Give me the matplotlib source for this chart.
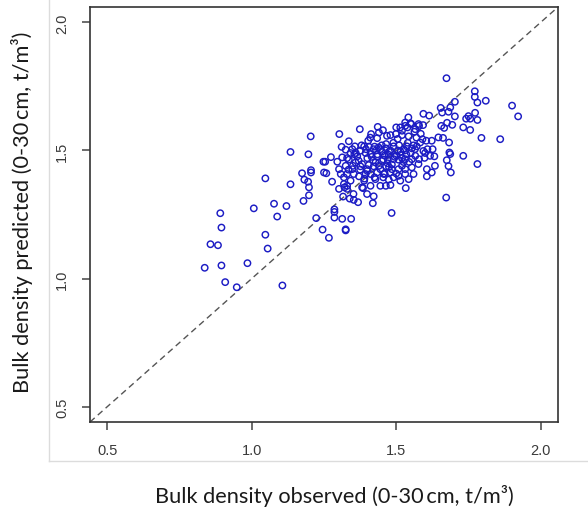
import matplotlib
matplotlib.use("Agg")
import matplotlib.pyplot as plt
from matplotlib.lines import Line2D

# Observed vs predicted topsoil bulk density (t/m3)
observed = [
    0.837, 0.857, 0.883, 0.891, 0.895, 0.895, 0.908, 0.948, 0.985, 1.007,
    1.047, 1.047, 1.055, 1.077, 1.088, 1.106, 1.120, 1.134, 1.134, 1.174,
    1.179, 1.182, 1.195, 1.196, 1.198, 1.198, 1.204, 1.205, 1.205, 1.223,
    1.245, 1.248, 1.250, 1.254, 1.258, 1.267, 1.274, 1.278, 1.286, 1.286,
    1.286, 1.303, 1.313, 1.316, 1.321, 1.325, 1.325, 1.330, 1.339, 1.344,
    1.352, 1.353, 1.368, 1.385, 1.399, 1.419, 1.422, 1.464, 1.480, 1.484,
    1.533, 1.673,
    1.674, 1.772, 1.772, 1.781, 1.810, 1.703, 1.901, 1.922, 1.654, 1.659,
    1.681, 1.687, 1.703, 1.594, 1.614, 1.542, 1.549, 1.750, 1.742, 1.756,
    1.773, 1.781, 1.656, 1.666, 1.676, 1.694, 1.732, 1.756, 1.579, 1.593,
    1.662, 1.683, 1.795, 1.860, 1.684, 1.687, 1.732, 1.781, 1.675, 1.681,
    1.689, 1.626, 1.632, 1.634, 1.608, 1.600, 1.617, 1.606, 1.623, 1.606,
    1.604, 1.623,
    1.374, 1.436, 1.454, 1.413, 1.336, 1.403, 1.434, 1.468, 1.499, 1.520,
    1.539, 1.552, 1.563, 1.543, 1.591, 1.646,
    1.311, 1.325, 1.357, 1.342, 1.376, 1.389, 1.394, 1.365, 1.411, 1.422,
    1.439, 1.451, 1.465, 1.434, 1.474, 1.491, 1.506, 1.515, 1.525, 1.537,
    1.554, 1.571, 1.583, 1.594, 1.566, 1.579, 1.598, 1.554, 1.531, 1.508,
    1.491, 1.471, 1.451, 1.428, 1.405, 1.382, 1.359, 1.336, 1.313, 1.296,
    1.302, 1.308,
    1.325, 1.348, 1.376, 1.399, 1.422, 1.445, 1.465, 1.485, 1.508, 1.531,
    1.554, 1.577, 1.330, 1.353, 1.371, 1.394, 1.411, 1.434, 1.457, 1.480,
    1.508, 1.514, 1.445, 1.411, 1.319, 1.342, 1.319, 1.330, 1.382, 1.531,
    1.560, 1.543, 1.491, 1.474, 1.428, 1.389, 1.302,
    1.531, 1.566, 1.577, 1.514, 1.531, 1.348,
    1.380, 1.400, 1.420, 1.430, 1.450, 1.460, 1.470, 1.480, 1.490, 1.500,
    1.510, 1.520, 1.530, 1.540, 1.550, 1.560, 1.440, 1.460, 1.400, 1.370,
    1.360, 1.350, 1.520, 1.500, 1.570, 1.480, 1.410, 1.440, 1.500, 1.520,
    1.330, 1.390,
    1.415, 1.435, 1.455, 1.475, 1.495, 1.515, 1.535, 1.545, 1.425, 1.445,
    1.465, 1.485, 1.505, 1.525, 1.395, 1.375, 1.355, 1.335, 1.565, 1.585,
    1.455, 1.475, 1.405, 1.425,
]
predicted = [
    1.042, 1.134, 1.130, 1.255, 1.199, 1.051, 0.986, 0.966, 1.060, 1.274,
    1.171, 1.391, 1.117, 1.292, 1.242, 0.973, 1.283, 1.368, 1.494, 1.411,
    1.303, 1.386, 1.378, 1.485, 1.356, 1.325, 1.555, 1.423, 1.414, 1.236,
    1.191, 1.456, 1.414, 1.456, 1.411, 1.159, 1.474, 1.378, 1.270, 1.260,
    1.238, 1.564, 1.233, 1.320, 1.356, 1.192, 1.188, 1.362, 1.312, 1.233,
    1.330, 1.307, 1.298, 1.353, 1.330, 1.294, 1.321, 1.362, 1.365, 1.256,
    1.353, 1.316,
    1.782, 1.731, 1.709, 1.687, 1.694, 1.690, 1.675, 1.633, 1.666, 1.648,
    1.651, 1.668, 1.633, 1.643, 1.636, 1.629, 1.606, 1.634, 1.624, 1.624,
    1.647, 1.619, 1.596, 1.588, 1.608, 1.600, 1.590, 1.580, 1.596, 1.599,
    1.549, 1.531, 1.549, 1.544, 1.492, 1.486, 1.479, 1.447, 1.462, 1.439,
    1.414, 1.505, 1.477, 1.440, 1.505, 1.490, 1.479, 1.427, 1.414, 1.399,
    1.538, 1.538,
    1.583, 1.592, 1.579, 1.564, 1.536, 1.538, 1.548, 1.557, 1.564, 1.577,
    1.590, 1.603, 1.573, 1.555, 1.544, 1.551,
    1.514, 1.503, 1.516, 1.490, 1.499, 1.516, 1.490, 1.477, 1.486, 1.505,
    1.512, 1.496, 1.508, 1.477, 1.483, 1.516, 1.500, 1.483, 1.505, 1.516,
    1.508, 1.516, 1.531, 1.498, 1.479, 1.466, 1.471, 1.466, 1.466, 1.464,
    1.466, 1.466, 1.459, 1.453, 1.443, 1.447, 1.453, 1.464, 1.473, 1.456,
    1.427, 1.408,
    1.440, 1.427, 1.438, 1.427, 1.438, 1.427, 1.438, 1.427, 1.427, 1.427,
    1.434, 1.447, 1.408, 1.408, 1.399, 1.408, 1.408, 1.414, 1.408, 1.414,
    1.401, 1.382, 1.362, 1.362, 1.395, 1.382, 1.369, 1.350, 1.356, 1.408,
    1.408, 1.388, 1.395, 1.386, 1.388, 1.382, 1.350,
    1.596, 1.583, 1.603, 1.590, 1.609, 1.505,
    1.520, 1.470, 1.460, 1.500, 1.520, 1.480, 1.450, 1.500, 1.530, 1.480,
    1.520, 1.470, 1.500, 1.530, 1.490, 1.520, 1.440, 1.410, 1.420, 1.460,
    1.490, 1.440, 1.440, 1.410, 1.550, 1.560, 1.550, 1.570, 1.590, 1.560,
    1.470, 1.390,
    1.475, 1.485, 1.465, 1.495, 1.475, 1.495, 1.485, 1.455, 1.515, 1.505,
    1.525, 1.445, 1.545, 1.455, 1.505, 1.425, 1.485, 1.425, 1.505, 1.565,
    1.395, 1.435, 1.515, 1.395,
]

axis_limits = (0.44, 2.06)
tick_values = [0.5, 1.0, 1.5, 2.0]
tick_labels = ["0.5", "1.0", "1.5", "2.0"]
x_title = "Bulk density observed (0-30\u2009cm, t/m\u00b3)"
y_title = "Bulk density predicted (0-30\u2009cm, t/m\u00b3)"

W, H = 588, 510
fig = plt.figure(figsize=(W / 100, H / 100), dpi=100)
fig.patch.set_facecolor("white")

# light frame around the embedded plot panel
fig.add_artist(Line2D([49 / W, 49 / W], [1.0, 1 - 462 / H], transform=fig.transFigure,
                      color="#dcdcdc", lw=1.0))
fig.add_artist(Line2D([49 / W, 1.0], [1 - 462 / H, 1 - 462 / H], transform=fig.transFigure,
                      color="#dcdcdc", lw=1.0))

ax = fig.add_axes([90 / W, 1 - 423 / H, (558 - 90) / W, (423 - 8) / H])
ax.set_xlim(*axis_limits)
ax.set_ylim(*axis_limits)

# 1:1 reference line
ax.plot(axis_limits, axis_limits, linestyle=(0, (4.5, 3.0)), color="#555555", lw=1.0, zorder=1)

ax.scatter(observed, predicted, s=21, facecolors="none", edgecolors="#1c1cc4",
           linewidths=1.05, zorder=2)

for side in ax.spines.values():
    side.set_color("#333333")
    side.set_linewidth(1.2)

tick_font = {"family": ["Liberation Sans", "DejaVu Sans"], "size": 10.5, "color": "#3a3a3a"}
ax.set_xticks(tick_values)
ax.set_yticks(tick_values)
ax.set_xticklabels(tick_labels, fontdict=tick_font)
ax.set_yticklabels(tick_labels, fontdict=tick_font, rotation=90, va="center")
ax.tick_params(axis="both", direction="out", length=6, width=1.1, color="#444444")
ax.tick_params(axis="x", pad=9)
ax.tick_params(axis="y", pad=9)

label_font = {"family": ["Lato", "DejaVu Sans"], "size": 15.7, "color": "#1a1a1a"}
fig.text(334 / W, 1 - 496 / H, x_title, ha="center", va="center", fontdict=label_font)
fig.text(22 / W, 1 - 212 / H, y_title, ha="center", va="center", rotation=90,
         fontdict=label_font)

fig.savefig("out.png", dpi=100, facecolor="white")
